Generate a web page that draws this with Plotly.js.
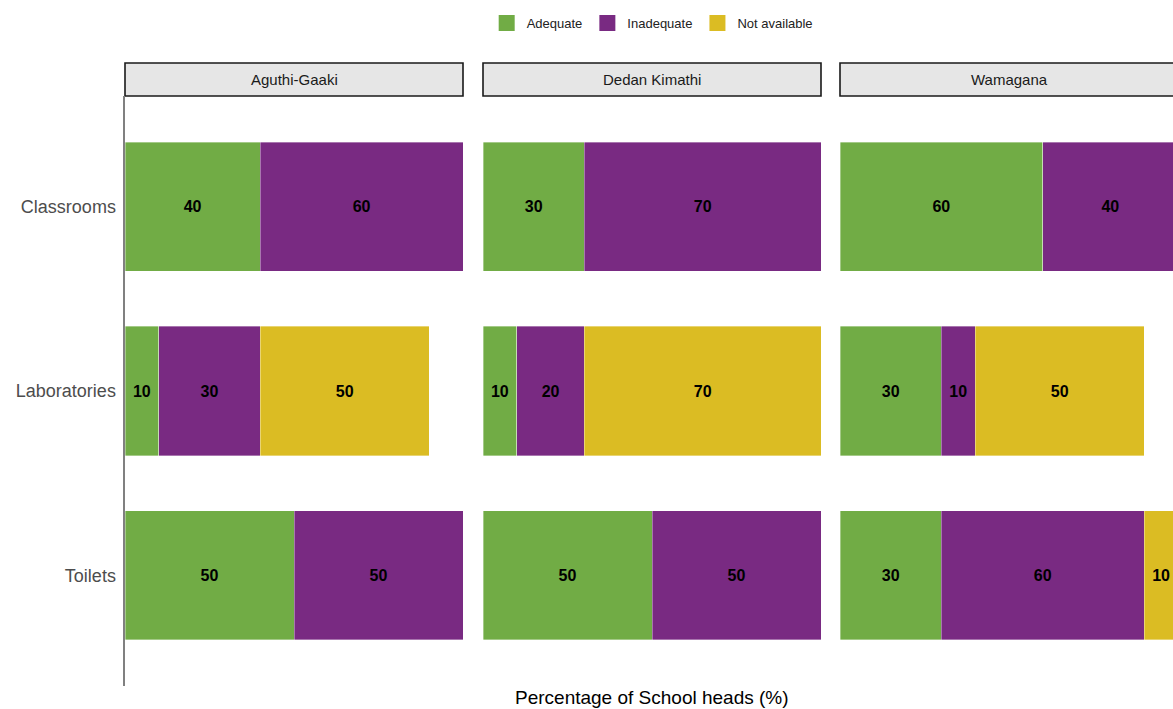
<!DOCTYPE html>
<html>
<head>
<meta charset="utf-8">
<script src="https://cdn.plot.ly/plotly-3.0.1.min.js"></script>
<style>html,body{margin:0;padding:0;background:#fff;}#chart{width:1173px;height:709px;}</style>
</head>
<body>
<div id="chart"></div>
<script>
const categories = ['Classrooms', 'Laboratories', 'Toilets'];
const facets = ['Aguthi-Gaaki', 'Dedan Kimathi', 'Wamagana'];
const statuses = ['Adequate', 'Inadequate', 'Not available'];
const statusColors = ['#71AC45', '#792A82', '#DBBC23'];

// values per facet, ordered as categories
const aguthiAdequate = [40, 10, 50];
const aguthiInadequate = [60, 30, 50];
const aguthiNotAvailable = [null, 50, null];

const dedanAdequate = [30, 10, 50];
const dedanInadequate = [70, 20, 50];
const dedanNotAvailable = [null, 70, null];

const wamaganaAdequate = [60, 30, 30];
const wamaganaInadequate = [40, 10, 60];
const wamaganaNotAvailable = [null, 50, 10];

const facetData = [
  [aguthiAdequate, aguthiInadequate, aguthiNotAvailable],
  [dedanAdequate, dedanInadequate, dedanNotAvailable],
  [wamaganaAdequate, wamaganaInadequate, wamaganaNotAvailable]
];

const W = 1173, H = 709;
const panelPx = [[125, 463], [483, 821], [840, 1178]];
const plotTop = 96, plotBottom = 686;
const stripTop = 63;

const traces = [];
facetData.forEach((series, fi) => {
  const axSuffix = fi === 0 ? '' : String(fi + 1);
  series.forEach((vals, si) => {
    traces.push({
      type: 'bar',
      orientation: 'h',
      name: statuses[si],
      y: categories,
      x: vals,
      xaxis: 'x' + axSuffix,
      yaxis: 'y',
      marker: {color: statusColors[si], line: {color: 'rgba(255,255,255,0.6)', width: 0.6}},
      text: vals.map(v => v == null ? '' : String(v)),
      textposition: 'inside',
      insidetextanchor: 'middle',
      constraintext: 'none',
      textangle: 0,
      textfont: {family: 'Liberation Sans, Arial, sans-serif', size: 16, color: '#000', weight: 'bold'},
      showlegend: false,
      hoverinfo: 'x+y+name'
    });
  });
});

// legend-only entries with larger square keys
statuses.forEach((s, si) => {
  traces.push({
    type: 'scatter', mode: 'markers',
    name: s, x: [null], y: [null],
    xaxis: 'x', yaxis: 'y',
    marker: {symbol: 'square', size: 24, color: statusColors[si]},
    showlegend: true, hoverinfo: 'skip'
  });
});

function domainFor(px) {
  const a = px[0] / W;
  const b = Math.min(px[1], W) / W;
  return [a, b];
}
function rangeFor(px) {
  const visible = Math.min(px[1], W) - px[0];
  return [0, 100 * visible / (px[1] - px[0])];
}

const layout = {
  width: W, height: H,
  margin: {l: 0, r: 0, t: 0, b: 0},
  paper_bgcolor: '#fff',
  plot_bgcolor: 'rgba(0,0,0,0)',
  barmode: 'stack',
  bargap: 0.3,
  font: {family: 'Liberation Sans, Arial, sans-serif', color: '#000'},
  showlegend: true,
  legend: {
    orientation: 'h',
    x: 0.556, xanchor: 'center',
    y: (H - 23) / H, yanchor: 'middle',
    font: {size: 13, color: '#222'},
    traceorder: 'normal',
    itemsizing: 'trace',
    itemwidth: 30
  },
  yaxis: {
    domain: [(H - plotBottom) / H, (H - plotTop) / H],
    anchor: 'x',
    type: 'category',
    categoryorder: 'array',
    categoryarray: categories,
    range: [2.6, -0.6],
    showline: true, linecolor: '#808080', linewidth: 2.5,
    showgrid: false, zeroline: false,
    ticks: '', ticklabelstandoff: 3,
    tickfont: {size: 18, color: '#4d4d4d'},
    fixedrange: true
  },
  shapes: [],
  annotations: []
};

panelPx.forEach((px, i) => {
  const key = i === 0 ? 'xaxis' : 'xaxis' + (i + 1);
  layout[key] = {
    domain: domainFor(px),
    range: rangeFor(px),
    anchor: 'y',
    showgrid: false, zeroline: false, showline: false,
    showticklabels: false, ticks: '',
    fixedrange: true
  };
  const xref = (i === 0 ? 'x' : 'x' + (i + 1)) + ' domain';
  const domW = Math.min(px[1], W) - px[0];
  const fullFrac = (px[1] - px[0]) / domW;
  layout.shapes.push({
    type: 'rect', xref: xref, yref: 'paper',
    x0: 0, x1: fullFrac,
    y0: (H - plotTop) / H, y1: (H - stripTop) / H,
    fillcolor: '#e6e6e6', line: {color: '#1a1a1a', width: 1.6},
    layer: 'below'
  });
  layout.annotations.push({
    xref: xref, yref: 'paper',
    x: fullFrac / 2, y: (H - (stripTop + plotTop) / 2) / H,
    xanchor: 'center', yanchor: 'middle',
    text: facets[i], showarrow: false,
    font: {size: 15, color: '#1a1a1a'}
  });
});

layout.annotations.push({
  xref: 'paper', yref: 'paper',
  x: 652 / W, y: (H - 697) / H,
  xanchor: 'center', yanchor: 'middle',
  text: 'Percentage of School heads (%)', showarrow: false,
  font: {size: 19, color: '#000'}
});

Plotly.newPlot('chart', traces, layout, {displayModeBar: false, staticPlot: true});
</script>
</body>
</html>
